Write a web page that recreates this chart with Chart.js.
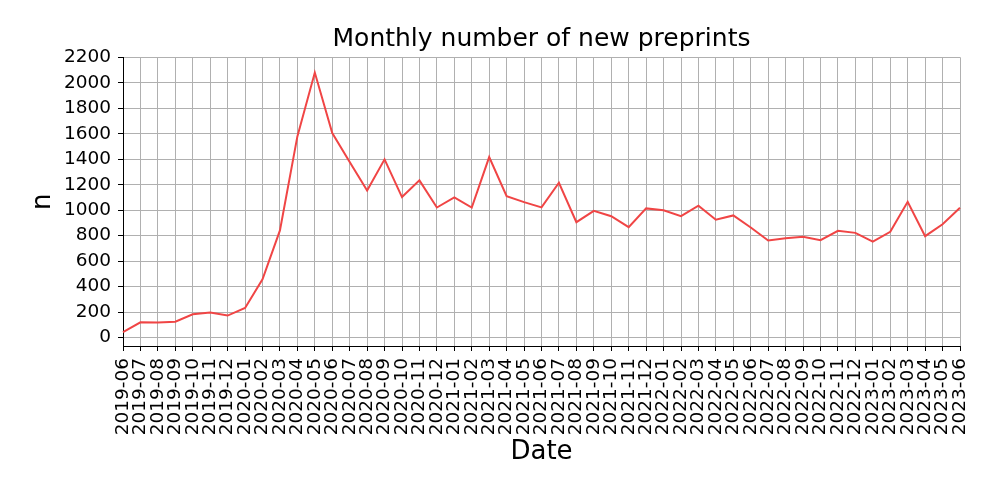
<!DOCTYPE html>
<html>
<head>
<meta charset="utf-8">
<script src="https://cdn.jsdelivr.net/npm/chart.js@4"></script>
<style>
  html, body { margin: 0; padding: 0; background: #fff; }
  #wrap { width: 1000px; height: 500px; }
</style>
</head>
<body>
<div id="wrap"><canvas id="ch" width="1000" height="500"></canvas></div>
<script>
  // months 2019-06 .. 2023-06
  const months = [
    '2019-06','2019-07','2019-08','2019-09','2019-10','2019-11','2019-12',
    '2020-01','2020-02','2020-03','2020-04','2020-05','2020-06','2020-07','2020-08','2020-09','2020-10','2020-11','2020-12',
    '2021-01','2021-02','2021-03','2021-04','2021-05','2021-06','2021-07','2021-08','2021-09','2021-10','2021-11','2021-12',
    '2022-01','2022-02','2022-03','2022-04','2022-05','2022-06','2022-07','2022-08','2022-09','2022-10','2022-11','2022-12',
    '2023-01','2023-02','2023-03','2023-04','2023-05','2023-06'
  ];
  const preprints = [
    42, 120, 118, 125, 183, 196, 173,
    233, 458, 841, 1579, 2080, 1605, 1378, 1155, 1399, 1103, 1234, 1021,
    1100, 1021, 1417, 1110, 1063, 1022, 1215, 906, 995, 953, 867, 1014,
    1000, 953, 1035, 925, 959, 864, 762, 780, 791, 765, 838, 822,
    754, 830, 1066, 796, 890, 1019
  ];
  const yTicks = [0, 200, 400, 600, 800, 1000, 1200, 1400, 1600, 1800, 2000, 2200];

  const font = 'DejaVu Sans';

  new Chart(document.getElementById('ch').getContext('2d'), {
    type: 'line',
    data: {
      labels: months,
      datasets: [{
        data: preprints,
        borderColor: '#f04545',
        borderWidth: 2,
        pointRadius: 0,
        tension: 0,
        fill: false
      }]
    },
    options: {
      responsive: false,
      animation: false,
      events: [],
      layout: { padding: { left: 0, right: 40, top: 0, bottom: 0 } },
      plugins: {
        legend: { display: false },
        tooltip: { enabled: false },
        title: {
          display: true,
          text: 'Monthly number of new preprints',
          fullSize: false,
          color: '#000',
          font: { family: font, size: 25, weight: 'normal' },
          padding: { top: 24.6, bottom: 2.7 }
        }
      },
      scales: {
        x: {
          type: 'category',
          offset: false,
          grid: { color: '#b0b0b0', lineWidth: 1, tickColor: '#000', tickLength: 5 },
          border: { color: '#000', width: 1 },
          ticks: {
            autoSkip: false, maxRotation: 90, minRotation: 90,
            color: '#000', padding: 7,
            font: { family: font, size: 18.5 }
          },
          title: {
            display: true, text: 'Date', color: '#000',
            font: { family: font, size: 26 },
            padding: { top: 0, bottom: 32 }
          },
          afterFit: s => { s.height = 154; s.paddingLeft = 0; s.paddingRight = 0; }
        },
        y: {
          type: 'linear',
          min: -66,
          max: 2200,
          grid: { color: '#b0b0b0', lineWidth: 1, tickColor: '#000', tickLength: 5 },
          border: { color: '#000', width: 1 },
          afterBuildTicks: s => { s.ticks = yTicks.map(v => ({ value: v })); },
          ticks: {
            color: '#000', padding: 7,
            font: { family: font, size: 18.5 },
            callback: v => String(v)
          },
          title: {
            display: true, text: 'n', color: '#000',
            font: { family: font, size: 26 },
            padding: { top: 28, bottom: 0 }
          },
          afterFit: s => { s.width = 123; s.paddingTop = 0; s.paddingBottom = 0; }
        }
      }
    }
  });
</script>
</body>
</html>
